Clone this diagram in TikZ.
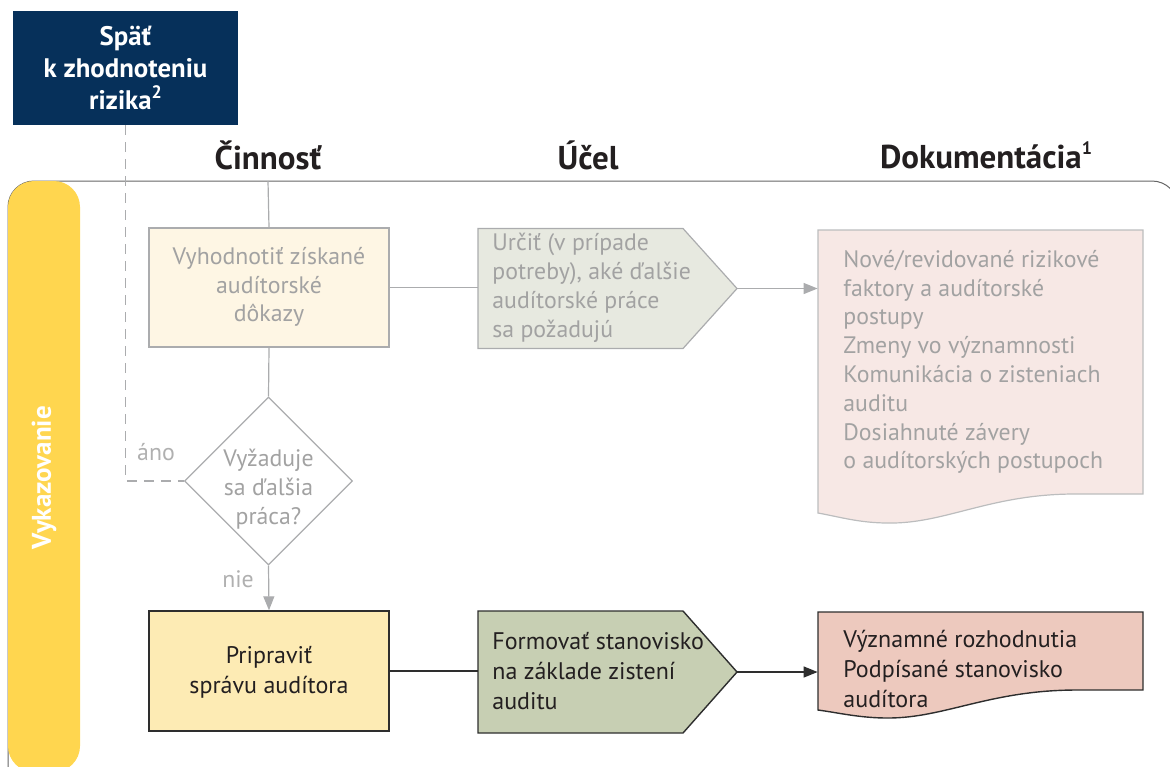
\documentclass[tikz,border=0pt]{standalone}
\usepackage{fontspec}
\setmainfont{PT Sans}
\usetikzlibrary{calc,arrows.meta,shapes.geometric}

\definecolor{navy}{HTML}{06305A}
\definecolor{laneyellow}{HTML}{FFD64F}
\definecolor{fadetext}{HTML}{A2A2A2}
\definecolor{fadeline}{HTML}{ABACAE}
\definecolor{cream}{HTML}{FEF6E4}
\definecolor{palegreen}{HTML}{E7E9E0}
\definecolor{palepink}{HTML}{F7E8E5}
\definecolor{yellowbox}{HTML}{FDEBB4}
\definecolor{sage}{HTML}{C7CFB3}
\definecolor{rosebox}{HTML}{EDC9BE}
\definecolor{darkline}{HTML}{2E2E2E}
\definecolor{inktext}{HTML}{231F20}

\newcommand{\supnum}[1]{\raisebox{0.42em}{\fontsize{9}{9}\selectfont\bfseries #1}}

\tikzset{
  boxtext/.style={font=\fontsize{11.9}{14.4}\selectfont, inner sep=0pt},
  boxtextB/.style={font=\fontsize{12}{15}\selectfont, inner sep=0pt},
  colhead/.style={font=\fontsize{16.5}{19}\selectfont\bfseries, text=inktext},
  faded/.style={draw=fadeline, line width=0.6pt},
  solidln/.style={draw=darkline, line width=0.7pt},
  fadearrow/.style={faded, -{Triangle[length=7pt,width=5.5pt]}},
  solidarrow/.style={solidln, -{Triangle[length=7pt,width=5.5pt]}},
}

\begin{document}
\begin{tikzpicture}[x=0.5pt,y=-0.5pt]
\useasboundingbox (0,0) rectangle (1170,766);

% swim lane frame and its yellow label bar
\draw[draw=gray!80!black, line width=0.5pt, rounded corners=13pt]
  (8,800) -- (8,181) -- (1178,181) -- (1178,800);
\fill[laneyellow, rounded corners=13pt] (8,181) rectangle (80,772);
\node[rotate=90, text=white, font=\fontsize{13.5}{16}\selectfont\bfseries] (lane) at (44,478) {Vykazovanie};

% link back to risk assessment
\node[fill=navy, text=white, minimum width=112.5pt, minimum height=57pt, inner sep=0pt,
      align=center, font=\fontsize{13.4}{16}\selectfont\bfseries] (back) at (125.5,68) {Späť\\k zhodnoteniu\\rizika\supnum{2}};

% column headings
\node[colhead] (h1) at (268,155) {Činnosť};
\node[colhead] (h2) at (588,155) {Účel};
\node[colhead] (h3) at (986,155) {Dokumentácia\supnum{1}};
\coordinate (lanetop) at (268,181);

% upper (faded) row
\node[faded, fill=cream, minimum width=120pt, minimum height=59.5pt, inner sep=0pt] (eval) at (269,287.5) {};
\node[boxtext, text=fadetext, align=center] at (269,287) {Vyhodnotiť získané\\audítorské\\dôkazy};

\node[minimum width=129.5pt, minimum height=60pt, inner sep=0pt] (purp1) at (607.5,288.5) {};
\coordinate (tip1) at (737,288.5);
\draw[faded, fill=palegreen] (478,228.5) -- (683,228.5) -- (tip1) -- (683,348.5) -- (478,348.5) -- cycle;
\node[boxtext, text=fadetext, align=left, anchor=west] at (492,288) {Určiť (v prípade\\potreby), aké ďalšie\\audítorské práce\\sa požadujú};

\node[minimum width=162.5pt, minimum height=141pt, inner sep=0pt] (doc1) at (980.5,371) {};
\draw[draw=fadeline!80, line width=0.6pt, fill=palepink]
  (818,230) -- (1143,230) -- (1143,494) -- (1075,494)
  .. controls (990,494) and (945,524) .. (888,523)
  .. controls (860,523) and (840,517) .. (818,513) -- cycle;
\node[boxtext, text=fadetext, align=left, anchor=west] at (843,362)
  {Nové/revidované rizikové\\faktory a audítorské\\postupy\\Zmeny vo významnosti\\Komunikácia o zisteniach\\auditu\\Dosiahnuté závery\\o audítorských postupoch};

% decision
\node[diamond, faded, minimum width=84pt, minimum height=84pt, inner sep=0pt] (dec) at (268.5,481) {};
\node[boxtext, text=fadetext, align=center] at (268.5,489) {Vyžaduje\\sa ďalšia\\práca?};
\node[boxtext, text=fadetext!85] (yes) at (156,452) {áno};
\node[boxtext, text=fadetext!85] (no) at (238,579) {nie};

% lower (active) row
\node[solidln, fill=yellowbox, minimum width=120pt, minimum height=60pt, inner sep=0pt] (prep) at (269,671) {};
\node[boxtextB, text=inktext, align=center] at (269,672) {Pripraviť\\správu audítora};

\node[minimum width=129.5pt, minimum height=61pt, inner sep=0pt] (purp2) at (607.5,672) {};
\coordinate (tip2) at (737,672);
\draw[solidln, fill=sage] (478,611) -- (683,611) -- (tip2) -- (683,733) -- (478,733) -- cycle;
\node[boxtextB, text=inktext, align=left, anchor=west] at (492,671) {Formovať stanovisko\\na základe zistení\\auditu};

\node[minimum width=162.5pt, minimum height=39pt, inner sep=0pt] (doc2) at (980.5,651) {};
\draw[solidln, fill=rosebox]
  (818,612) -- (1143,612) -- (1143,690) -- (1077,690)
  .. controls (990,690) and (945,718) .. (888,718)
  .. controls (860,718) and (840,713) .. (818,710) -- cycle;
\node[boxtextB, text=inktext, align=left, anchor=west] at (843,669) {Významné rozhodnutia\\Podpísané stanovisko\\audítora};

% connectors
\draw[faded] (lanetop) -- (eval.north);
\draw[faded] (eval.east) -- (eval.east -| purp1.west);
\draw[fadearrow] (tip1) -- (tip1 -| doc1.west);
\draw[faded] (eval.south) -- (dec.north);
\draw[fadearrow] (dec.south) -- (prep.north);
\draw[draw=fadeline, line width=0.7pt, dash pattern=on 5pt off 3.5pt] (back.south) -- (back.south |- dec.west) -- (dec.west);
\draw[solidln] (prep.east) -- (prep.east -| purp2.west);
\draw[solidarrow] (tip2) -- (tip2 -| doc2.west);
\end{tikzpicture}
\end{document}
